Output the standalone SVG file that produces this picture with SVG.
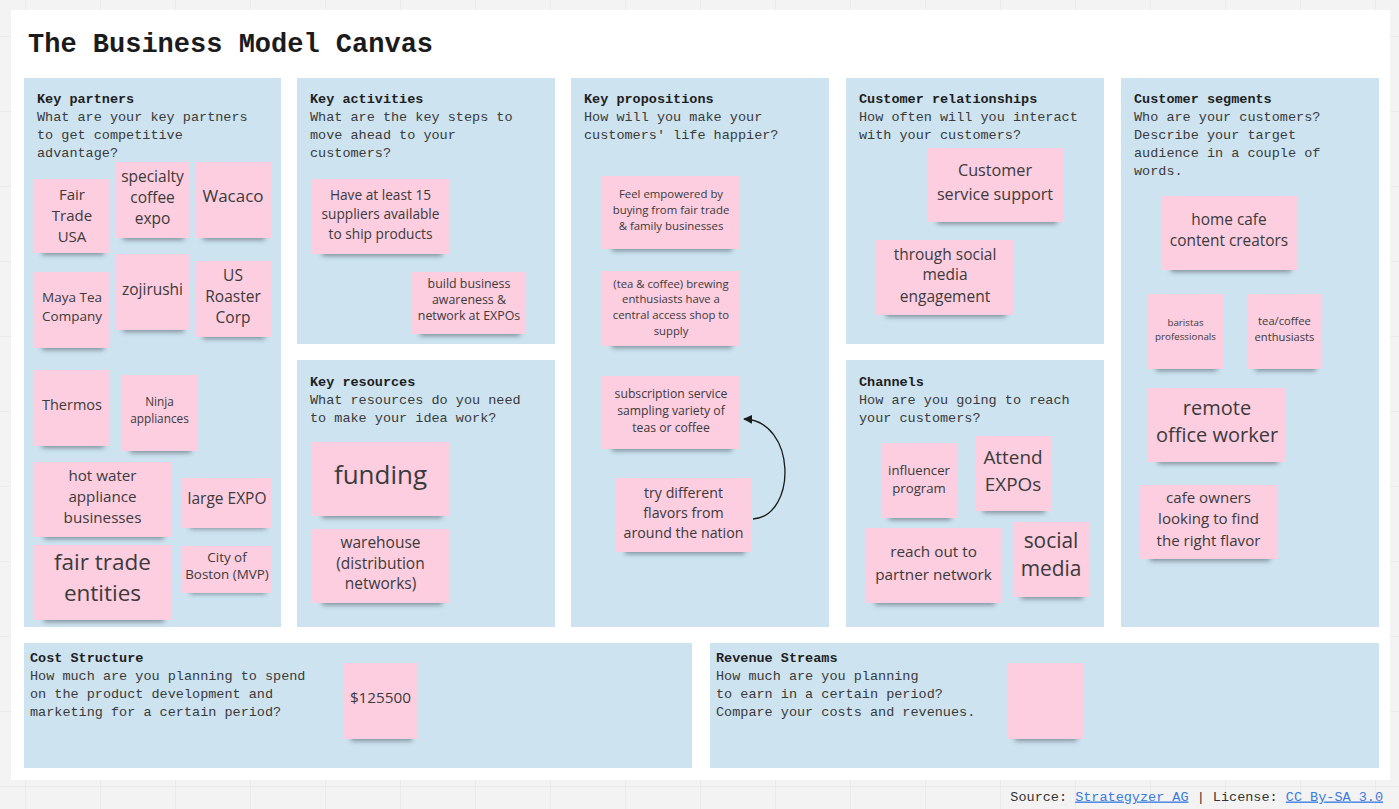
<svg xmlns="http://www.w3.org/2000/svg" width="1399" height="809" viewBox="0 0 1399 809">
<style>
.sec{fill:#cde3f0}
.hd{font-family:"Liberation Mono","DejaVu Sans Mono",monospace;font-size:13.5px;fill:#1e1e1e}
.hd .b{font-weight:bold}
.hd .q{fill:#3a3a3a}
.paper{fill:#fdcde0}
.shadow{fill:#3e4a52;opacity:.55;filter:url(#blur)}
.nt{font-family:"Open Sans","Noto Sans","DejaVu Sans",sans-serif;fill:#3b3b3b;text-anchor:middle}
.title{font-family:"Liberation Mono","DejaVu Sans Mono",monospace;font-weight:bold;font-size:27px;fill:#1b1b1b}
.foot{font-family:"Liberation Mono","DejaVu Sans Mono",monospace;font-size:13.5px;fill:#333}
.lnk{fill:#3a7be0;text-decoration:underline}
.conn{fill:none;stroke:#1a1a1a;stroke-width:1.3}
</style>
<defs>
<pattern id="grid" x="25" y="36" width="75" height="75" patternUnits="userSpaceOnUse">
<path d="M0 0V75M0 0H75" fill="none" stroke="#e3e3e3" stroke-width="1"/>
</pattern>
<filter id="blur" x="-20%" y="-50%" width="140%" height="200%"><feGaussianBlur stdDeviation="2.5"/></filter>
<marker id="arr" viewBox="0 0 10 10" refX="9" refY="5" markerWidth="9" markerHeight="9" markerUnits="userSpaceOnUse" orient="auto">
<path d="M0 0L10 5L0 10z" fill="#1a1a1a"/>
</marker>
</defs>
<rect width="1399" height="809" fill="#f3f3f3"/>
<rect width="1399" height="809" fill="url(#grid)"/>
<rect x="11" y="10" width="1379" height="770" fill="#ffffff"/>
<text class="title" x="28" y="52">The Business Model Canvas</text>

<g id="sec-key-partners">
<rect class="sec" x="24" y="78" width="257" height="549"/>
<text class="hd" x="37"><tspan class="b" x="37" y="102.5">Key partners</tspan><tspan class="q" x="37" y="120.5">What are your key partners</tspan><tspan class="q" x="37" y="138.5">to get competitive</tspan><tspan class="q" x="37" y="156.5">advantage?</tspan></text>
</g>
<g id="sec-key-activities">
<rect class="sec" x="297" y="78" width="258" height="266"/>
<text class="hd"><tspan class="b" x="310" y="102.5">Key activities</tspan><tspan class="q" x="310" y="120.5">What are the key steps to</tspan><tspan class="q" x="310" y="138.5">move ahead to your</tspan><tspan class="q" x="310" y="156.5">customers?</tspan></text>
</g>
<g id="sec-key-resources">
<rect class="sec" x="297" y="360" width="258" height="267"/>
<text class="hd"><tspan class="b" x="310" y="385.5">Key resources</tspan><tspan class="q" x="310" y="403.5">What resources do you need</tspan><tspan class="q" x="310" y="421.5">to make your idea work?</tspan></text>
</g>
<g id="sec-key-propositions">
<rect class="sec" x="571" y="78" width="258" height="549"/>
<text class="hd"><tspan class="b" x="584" y="102.5">Key propositions</tspan><tspan class="q" x="584" y="120.5">How will you make your</tspan><tspan class="q" x="584" y="138.5">customers' life happier?</tspan></text>
</g>
<g id="sec-customer-relationships">
<rect class="sec" x="846" y="78" width="258" height="266"/>
<text class="hd"><tspan class="b" x="859" y="102.5">Customer relationships</tspan><tspan class="q" x="859" y="120.5">How often will you interact</tspan><tspan class="q" x="859" y="138.5">with your customers?</tspan></text>
</g>
<g id="sec-channels">
<rect class="sec" x="846" y="360" width="258" height="267"/>
<text class="hd"><tspan class="b" x="859" y="385.5">Channels</tspan><tspan class="q" x="859" y="403.5">How are you going to reach</tspan><tspan class="q" x="859" y="421.5">your customers?</tspan></text>
</g>
<g id="sec-customer-segments">
<rect class="sec" x="1121" y="78" width="258" height="549"/>
<text class="hd"><tspan class="b" x="1134" y="102.5">Customer segments</tspan><tspan class="q" x="1134" y="120.5">Who are your customers?</tspan><tspan class="q" x="1134" y="138.5">Describe your target</tspan><tspan class="q" x="1134" y="156.5">audience in a couple of</tspan><tspan class="q" x="1134" y="174.5">words.</tspan></text>
</g>
<g id="sec-cost-structure">
<rect class="sec" x="24" y="643" width="668" height="125"/>
<text class="hd"><tspan class="b" x="30" y="661.5">Cost Structure</tspan><tspan class="q" x="30" y="679.5">How much are you planning to spend</tspan><tspan class="q" x="30" y="697.5">on the product development and</tspan><tspan class="q" x="30" y="715.5">marketing for a certain period?</tspan></text>
</g>
<g id="sec-revenue-streams">
<rect class="sec" x="710" y="643" width="669" height="125"/>
<text class="hd"><tspan class="b" x="716" y="661.5">Revenue Streams</tspan><tspan class="q" x="716" y="679.5">How much are you planning</tspan><tspan class="q" x="716" y="697.5">to earn in a certain period?</tspan><tspan class="q" x="716" y="715.5">Compare your costs and revenues.</tspan></text>
</g>

<!-- Key partners notes -->
<g id="n-fair-trade-usa"><rect class="shadow" x="42" y="243" width="62" height="12"/><rect class="paper" x="34" y="179" width="76" height="74"/><text class="nt" font-size="15"><tspan x="72" y="199.5">Fair</tspan><tspan x="72" y="220.5">Trade</tspan><tspan x="72" y="241.5">USA</tspan></text></g>
<g id="n-specialty-coffee-expo"><rect class="shadow" x="123" y="228" width="61" height="12"/><rect class="paper" x="115" y="162" width="75" height="76"/><text class="nt" font-size="15.5"><tspan x="152.5" y="181.5">specialty</tspan><tspan x="152.5" y="202.5">coffee</tspan><tspan x="152.5" y="223.5">expo</tspan></text></g>
<g id="n-wacaco"><rect class="shadow" x="203" y="228" width="62" height="12"/><rect class="paper" x="195" y="162" width="76" height="76"/><text class="nt" font-size="17"><tspan x="233" y="202">Wacaco</tspan></text></g>
<g id="n-maya-tea"><rect class="shadow" x="42" y="338" width="62" height="12"/><rect class="paper" x="34" y="272" width="76" height="76"/><text class="nt" font-size="13.5"><tspan x="72" y="301.5">Maya Tea</tspan><tspan x="72" y="320.5">Company</tspan></text></g>
<g id="n-zojirushi"><rect class="shadow" x="123" y="320" width="61" height="12"/><rect class="paper" x="115" y="254" width="75" height="76"/><text class="nt" font-size="15.5"><tspan x="152.5" y="294.5">zojirushi</tspan></text></g>
<g id="n-us-roaster"><rect class="shadow" x="203" y="327" width="62" height="12"/><rect class="paper" x="195" y="261" width="76" height="76"/><text class="nt" font-size="15.5"><tspan x="233" y="280.5">US</tspan><tspan x="233" y="301.5">Roaster</tspan><tspan x="233" y="322.5">Corp</tspan></text></g>
<g id="n-thermos"><rect class="shadow" x="42" y="436" width="62" height="12"/><rect class="paper" x="34" y="370" width="76" height="76"/><text class="nt" font-size="14.5"><tspan x="72" y="410">Thermos</tspan></text></g>
<g id="n-ninja"><rect class="shadow" x="130" y="441" width="61" height="12"/><rect class="paper" x="122" y="375" width="75" height="76"/><text class="nt" font-size="11.8"><tspan x="159.5" y="406">Ninja</tspan><tspan x="159.5" y="423">appliances</tspan></text></g>
<g id="n-hot-water"><rect class="shadow" x="44" y="527" width="120" height="12"/><rect class="paper" x="34" y="462" width="137" height="75"/><text class="nt" font-size="15.2"><tspan x="102.5" y="481">hot water</tspan><tspan x="102.5" y="502">appliance</tspan><tspan x="102.5" y="523">businesses</tspan></text></g>
<g id="n-large-expo"><rect class="shadow" x="190" y="518" width="76" height="11"/><rect class="paper" x="182" y="478" width="90" height="50"/><text class="nt" font-size="15.5"><tspan x="227" y="503.5">large EXPO</tspan></text></g>
<g id="n-fair-trade-entities"><rect class="shadow" x="44" y="610" width="120" height="12"/><rect class="paper" x="34" y="545" width="137" height="75"/><text class="nt" font-size="22.5"><tspan x="102.5" y="570">fair trade</tspan><tspan x="102.5" y="601">entities</tspan></text></g>
<g id="n-city-of-boston"><rect class="shadow" x="190" y="583" width="76" height="11"/><rect class="paper" x="182" y="546" width="90" height="47"/><text class="nt" font-size="13.4"><tspan x="227" y="561.5">City of</tspan><tspan x="227" y="578.5">Boston (MVP)</tspan></text></g>

<!-- Key activities notes -->
<g id="n-suppliers"><rect class="shadow" x="322" y="244" width="120" height="12"/><rect class="paper" x="312" y="179" width="137" height="75"/><text class="nt" font-size="13.7"><tspan x="380.5" y="200">Have at least 15</tspan><tspan x="380.5" y="219">suppliers available</tspan><tspan x="380.5" y="239">to ship products</tspan></text></g>
<g id="n-business-awareness"><rect class="shadow" x="420" y="324" width="100" height="12"/><rect class="paper" x="412" y="272" width="114" height="62"/><text class="nt" font-size="12.4"><tspan x="469" y="288">build business</tspan><tspan x="469" y="304">awareness &amp;</tspan><tspan x="469" y="320">network at EXPOs</tspan></text></g>

<!-- Key resources notes -->
<g id="n-funding"><rect class="shadow" x="322" y="506" width="120" height="12"/><rect class="paper" x="312" y="442" width="137" height="74"/><text class="nt" font-size="26"><tspan x="380.5" y="484">funding</tspan></text></g>
<g id="n-warehouse"><rect class="shadow" x="322" y="593" width="120" height="12"/><rect class="paper" x="312" y="529" width="137" height="74"/><text class="nt" font-size="15.5"><tspan x="380.5" y="548">warehouse</tspan><tspan x="380.5" y="569">(distribution</tspan><tspan x="380.5" y="589">networks)</tspan></text></g>

<!-- Key propositions notes -->
<g id="n-empowered"><rect class="shadow" x="612" y="239" width="120" height="12"/><rect class="paper" x="602" y="176" width="138" height="73"/><text class="nt" font-size="11.4"><tspan x="671" y="198">Feel empowered by</tspan><tspan x="671" y="214">buying from fair trade</tspan><tspan x="671" y="230">&amp; family businesses</tspan></text></g>
<g id="n-central-access"><rect class="shadow" x="612" y="336" width="120" height="12"/><rect class="paper" x="602" y="271" width="138" height="75"/><text class="nt" font-size="11.3"><tspan x="671" y="288">(tea &amp; coffee) brewing</tspan><tspan x="671" y="303">enthusiasts have a</tspan><tspan x="671" y="319">central access shop to</tspan><tspan x="671" y="335">supply</tspan></text></g>
<g id="n-subscription"><rect class="shadow" x="612" y="439" width="120" height="12"/><rect class="paper" x="602" y="376" width="138" height="73"/><text class="nt" font-size="12.2"><tspan x="671" y="397.5">subscription service</tspan><tspan x="671" y="414.5">sampling variety of</tspan><tspan x="671" y="431.5">teas or coffee</tspan></text></g>
<g id="n-try-different"><rect class="shadow" x="625" y="542" width="120" height="12"/><rect class="paper" x="615" y="478" width="137" height="74"/><text class="nt" font-size="14.2"><tspan x="683.5" y="497.5">try different</tspan><tspan x="683.5" y="517.5">flavors from</tspan><tspan x="683.5" y="537.5">around the nation</tspan></text></g>

<!-- Customer relationships notes -->
<g id="n-customer-service"><rect class="shadow" x="937" y="212" width="120" height="12"/><rect class="paper" x="927" y="148" width="136" height="74"/><text class="nt" font-size="16.2"><tspan x="995" y="176">Customer</tspan><tspan x="995" y="200">service support</tspan></text></g>
<g id="n-social-engagement"><rect class="shadow" x="886" y="305" width="120" height="12"/><rect class="paper" x="876" y="240" width="138" height="75"/><text class="nt" font-size="15.5"><tspan x="945" y="259.5">through social</tspan><tspan x="945" y="279.5">media</tspan><tspan x="945" y="301.5">engagement</tspan></text></g>

<!-- Channels notes -->
<g id="n-influencer"><rect class="shadow" x="889" y="508" width="62" height="12"/><rect class="paper" x="881" y="443" width="76" height="75"/><text class="nt" font-size="13.2"><tspan x="919" y="474.5">influencer</tspan><tspan x="919" y="492.5">program</tspan></text></g>
<g id="n-attend-expos"><rect class="shadow" x="983" y="501" width="62" height="12"/><rect class="paper" x="975" y="436" width="76" height="75"/><text class="nt" font-size="18.9"><tspan x="1013" y="463.5">Attend</tspan><tspan x="1013" y="490.5">EXPOs</tspan></text></g>
<g id="n-partner-network"><rect class="shadow" x="875" y="593" width="120" height="12"/><rect class="paper" x="865" y="528" width="137" height="75"/><text class="nt" font-size="15.3"><tspan x="933.5" y="556.5">reach out to</tspan><tspan x="933.5" y="579.5">partner network</tspan></text></g>
<g id="n-social-media"><rect class="shadow" x="1021" y="587" width="62" height="12"/><rect class="paper" x="1013" y="522" width="76" height="75"/><text class="nt" font-size="20.9"><tspan x="1051" y="548">social</tspan><tspan x="1051" y="576">media</tspan></text></g>

<!-- Customer segments notes -->
<g id="n-home-cafe"><rect class="shadow" x="1171" y="260" width="120" height="12"/><rect class="paper" x="1161" y="196" width="136" height="74"/><text class="nt" font-size="15.4"><tspan x="1229" y="225">home cafe</tspan><tspan x="1229" y="246">content creators</tspan></text></g>
<g id="n-baristas"><rect class="shadow" x="1156" y="359" width="61" height="12"/><rect class="paper" x="1148" y="294" width="75" height="75"/><text class="nt" font-size="9.8"><tspan x="1185.5" y="325.5">baristas</tspan><tspan x="1185.5" y="339.5">professionals</tspan></text></g>
<g id="n-enthusiasts"><rect class="shadow" x="1255" y="359" width="61" height="12"/><rect class="paper" x="1247" y="294" width="75" height="75"/><text class="nt" font-size="11.2"><tspan x="1284.5" y="325">tea/coffee</tspan><tspan x="1284.5" y="341">enthusiasts</tspan></text></g>
<g id="n-remote-worker"><rect class="shadow" x="1158" y="452" width="120" height="12"/><rect class="paper" x="1148" y="388" width="138" height="74"/><text class="nt" font-size="20"><tspan x="1217" y="415">remote</tspan><tspan x="1217" y="442">office worker</tspan></text></g>
<g id="n-cafe-owners"><rect class="shadow" x="1150" y="549" width="120" height="12"/><rect class="paper" x="1140" y="485" width="137" height="74"/><text class="nt" font-size="15.1"><tspan x="1208.5" y="503">cafe owners</tspan><tspan x="1208.5" y="524">looking to find</tspan><tspan x="1208.5" y="546">the right flavor</tspan></text></g>

<!-- Bottom notes -->
<g id="n-cost"><rect class="shadow" x="351" y="729" width="61" height="12"/><rect class="paper" x="343" y="663" width="75" height="76"/><text class="nt" font-size="15.3"><tspan x="380.5" y="703">$125500</tspan></text></g>
<g id="n-revenue"><rect class="shadow" x="1015" y="729" width="62" height="12"/><rect class="paper" x="1007" y="663" width="76" height="76"/></g>

<g id="connectors">
<path class="conn" d="M753 519C797 516 797 421 744 419" marker-end="url(#arr)"/>
</g>

<text class="foot" x="1383" y="800.5" text-anchor="end">Source: <tspan class="lnk">Strategyzer AG</tspan> | License: <tspan class="lnk">CC By-SA 3.0</tspan></text>
</svg>
